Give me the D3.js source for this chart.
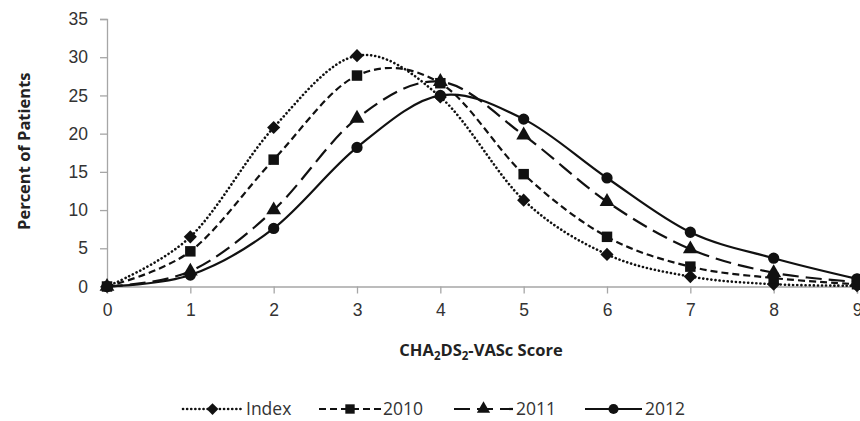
<!DOCTYPE html>
<html lang="en">
<head>
<meta charset="UTF-8">
<title>CHA2DS2-VASc Score distribution</title>
<script src="https://d3js.org/d3.v7.min.js"></script>
<style>
    body { margin: 0; background: #fff; }
    svg { display: block; font-family: "Open Sans", sans-serif; }
    .tick text { font-size: 17.5px; fill: #333; }
    .axis-title { font-size: 16.5px; font-weight: bold; fill: #222; }
    .legend-label { font-size: 17.5px; fill: #333; }
</style>
</head>
<body>
<svg id="chart" width="860" height="421"></svg>
<script>
    // chart values
    const scores = [0, 1, 2, 3, 4, 5, 6, 7, 8, 9];
    const indexVals = [0, 6.5, 20.8, 30.2, 24.8, 11.3, 4.2, 1.3, 0.3, 0.1];
    const vals2010 = [0, 4.6, 16.6, 27.6, 26.6, 14.7, 6.5, 2.6, 1.1, 0.3];
    const vals2011 = [0, 2.0, 10.0, 22.0, 26.8, 19.8, 11.1, 4.9, 1.8, 0.6];
    const vals2012 = [0, 1.5, 7.6, 18.2, 25.0, 21.9, 14.2, 7.1, 3.7, 1.0];
    const yTicks = [0, 5, 10, 15, 20, 25, 30, 35];

    const series = [
        { name: "Index", values: indexVals, dash: "0.1,4", cap: "round", marker: d3.symbolDiamond2, size: 110 },
        { name: "2010", values: vals2010, dash: "7,4", cap: "butt", marker: d3.symbolSquare, size: 110 },
        { name: "2011", values: vals2011, dash: "16,7", cap: "butt", marker: d3.symbolTriangle, size: 95 },
        { name: "2012", values: vals2012, dash: null, cap: "butt", marker: d3.symbolCircle, size: 100 }
    ];

    const svg = d3.select("#chart");
    const x = d3.scaleLinear().domain([0, 9]).range([107, 857]);
    const y = d3.scaleLinear().domain([0, 35]).range([286.5, 19]);
    const axisColor = "#a6a6a6";
    const ink = "#111";

    // y axis
    const yAxis = svg.append("g")
        .attr("transform", `translate(${x(0)},0)`)
        .call(d3.axisLeft(y).tickValues(yTicks).tickSize(7).tickPadding(12));
    // x axis
    const xAxis = svg.append("g")
        .attr("transform", `translate(0,${y(0)})`)
        .call(d3.axisBottom(x).tickValues(scores).tickSize(7).tickPadding(8).tickFormat(d3.format("d")));
    [yAxis, xAxis].forEach(g => {
        g.select(".domain").attr("stroke", axisColor).attr("stroke-width", 1.3);
        g.selectAll(".tick line").attr("stroke", axisColor).attr("stroke-width", 1.3);
    });
    xAxis.selectAll(".tick text").attr("dy", "0.8em");

    // axis titles
    svg.append("text")
        .attr("class", "axis-title")
        .attr("transform", `translate(30,${y(17.7)}) rotate(-90)`)
        .attr("text-anchor", "middle")
        .text("Percent of Patients");

    const xt = svg.append("text")
        .attr("class", "axis-title")
        .attr("x", 481).attr("y", 356)
        .attr("text-anchor", "middle");
    xt.append("tspan").text("CHA");
    xt.append("tspan").attr("font-size", "11.5px").attr("dy", 4).text("2");
    xt.append("tspan").attr("dy", -4).text("DS");
    xt.append("tspan").attr("font-size", "11.5px").attr("dy", 4).text("2");
    xt.append("tspan").attr("dy", -4).text("-VASc Score");

    // lines, Excel style smoothing
    const line = d3.line()
        .x((d, i) => x(scores[i]))
        .y(d => y(d))
        .curve(d3.curveCardinal.tension(0));

    series.forEach(s => {
        svg.append("path")
            .datum(s.values)
            .attr("fill", "none")
            .attr("stroke", ink)
            .attr("stroke-width", s.cap === "round" ? 2.6 : 2.2)
            .attr("stroke-linecap", s.cap)
            .attr("stroke-dasharray", s.dash)
            .attr("d", line);
    });

    series.forEach(s => {
        svg.append("g")
            .selectAll("path")
            .data(s.values)
            .join("path")
            .attr("transform", (d, i) => `translate(${x(scores[i])},${y(d)})`)
            .attr("d", d3.symbol().type(s.marker).size(s.size))
            .attr("fill", ink);
    });

    // legend
    const legendItems = [
        { s: series[0], x0: 183, x1: 242, tx: 246 },
        { s: series[1], x0: 319, x1: 381, tx: 383 },
        { s: series[2], x0: 454, x1: 513, tx: 516 },
        { s: series[3], x0: 585, x1: 642, tx: 645 }
    ];
    const ly = 409;
    legendItems.forEach(it => {
        svg.append("line")
            .attr("x1", it.x0).attr("x2", it.x1)
            .attr("y1", ly).attr("y2", ly)
            .attr("stroke", ink)
            .attr("stroke-width", it.s.cap === "round" ? 2.6 : 2.2)
            .attr("stroke-linecap", it.s.cap)
            .attr("stroke-dasharray", it.s.dash);
        svg.append("path")
            .attr("transform", `translate(${(it.x0 + it.x1) / 2},${ly})`)
            .attr("d", d3.symbol().type(it.s.marker).size(it.s.size * 0.8))
            .attr("fill", ink);
        svg.append("text")
            .attr("class", "legend-label")
            .attr("x", it.tx).attr("y", ly)
            .attr("dy", "0.36em")
            .text(it.s.name);
    });
</script>
</body>
</html>
